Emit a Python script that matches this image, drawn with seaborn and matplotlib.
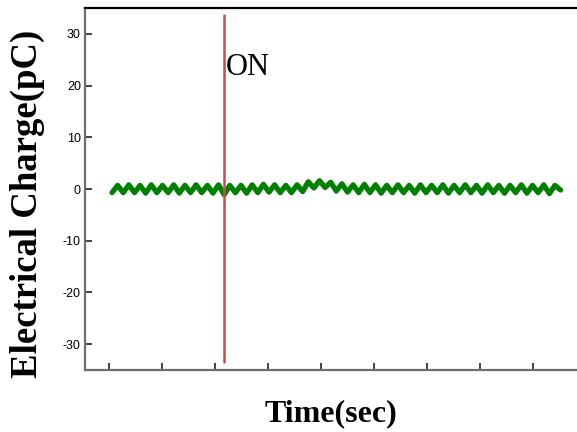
import numpy as np
import pandas as pd
import matplotlib
matplotlib.use("Agg")
import matplotlib.pyplot as plt
import seaborn as sns

# ---- data ----
t_start, t_end = 0.06, 8.52          # time span of the recorded trace
charge = [
    -0.7, 0.7, -0.7, 0.8, -0.7, 0.7, -0.8, 0.8, -0.7, 0.7,
    -0.7, 0.8, -0.8, 0.7, -0.7, 0.8, -0.7, 0.7, -0.8, 0.8,
    -1.1, 0.7, -0.7, 0.7, -0.8, 0.8, -0.7, 0.9, -0.6, 0.8,
    -0.7, 0.7, -0.7, 0.8, -0.5, 1.4, 0.2, 1.6, 0.3, 1.3,
    -0.4, 1.0, -0.6, 0.8, -0.7, 0.9, -0.7, 0.8, -0.8, 0.7,
    -0.7, 0.8, -0.7, 0.7, -0.8, 0.8, -0.7, 0.7, -0.7, 0.8,
    -0.8, 0.7, -0.7, 0.8, -0.7, 0.7, -0.8, 0.8, -0.7, 0.7,
    -0.8, 0.7, -0.7, 0.8, -0.8, 0.7, -0.7, 0.8, -0.9, 0.7,
    -0.2,
]
time = np.linspace(t_start, t_end, len(charge))
on_time = 2.17
on_range = (-33.5, 33.6)
y_ticks = [-30, -20, -10, 0, 10, 20, 30]
x_ticks = [0, 1, 2, 3, 4, 5, 6, 7, 8]

df = pd.DataFrame({"time": time, "charge": charge})

sns.set_style("ticks")
plt.rcParams["font.family"] = ["Liberation Sans", "DejaVu Sans"]
plt.rcParams["text.color"] = "black"
plt.rcParams["axes.labelcolor"] = "black"

fig = plt.figure(figsize=(5.77, 4.32), dpi=100)
ax = fig.add_axes([85 / 577, 1 - 370 / 432, 492 / 577, 362 / 432])

sns.lineplot(data=df, x="time", y="charge", ax=ax, color="#008000",
             linewidth=3.8, estimator=None, sort=False)
ax.plot([on_time, on_time], list(on_range), color="#c0504d", linewidth=1.8)
ax.text(on_time + 0.03, 23.5, "ON", fontsize=22, family="Liberation Serif",
        ha="left", va="center", color="black")

ax.set_xlim(-0.45, 8.83)
ax.set_ylim(-35, 35)
ax.set_xticks(x_ticks)
ax.set_xticklabels([])
ax.set_yticks(y_ticks)
ax.set_yticklabels([str(v) for v in y_ticks])
ax.tick_params(axis="both", direction="in", length=5, width=1.2,
               color="#222222", labelsize=9, labelcolor="black", pad=3)

for s in ["left", "bottom"]:
    ax.spines[s].set_color("#6e6e6e")
    ax.spines[s].set_linewidth(1.6)
ax.spines["top"].set_visible(True)
ax.spines["top"].set_color("black")
ax.spines["top"].set_linewidth(1.6)
ax.spines["right"].set_visible(False)

ax.set_xlabel("Time(sec)", fontsize=23, fontweight="bold",
              family="Liberation Serif", va="center", color="black")
ax.xaxis.set_label_coords(0.5, -0.122)
ax.set_ylabel("Electrical Charge(pC)", fontsize=26.5, fontweight="bold",
              family="Liberation Serif", va="center", color="black")
ax.yaxis.set_label_coords(-0.116, 0.459)

fig.savefig("out.png", dpi=100)
